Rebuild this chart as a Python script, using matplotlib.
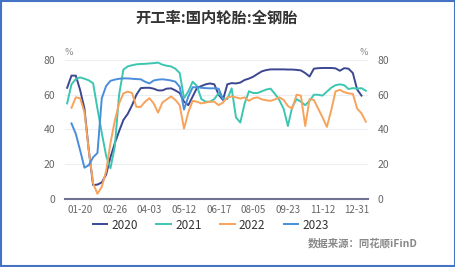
import numpy as np
import matplotlib.pyplot as plt
from matplotlib.patches import Rectangle

plt.rcParams['font.family'] = ['Noto Sans CJK SC', 'DejaVu Sans']

nan = np.nan
tick_labels = ['01-20', '02-26', '04-03', '05-12', '06-17',
               '08-05', '09-23', '11-12', '12-31']
tick_pos = [3, 11, 19, 27, 35, 43, 51, 59, 67]

y2020 = [64, 71, 71, 62.7, 52, 28, 8, 8.3, 9.5, 14,
         24, 32, 39, 45.5, 49, 54, 60, 63.8, 64, 64,
         63.5, 62.5, 62.5, 63.5, 63.7, 62.5, 61, 56, 54, 59,
         64, 65, 66, 66.5, 66, 60, 57, 66, 66.7, 66.5,
         67, 68.5, 69.3, 70.4, 72, 73.5, 74.2, 74.6, 74.6, 74.6,
         74.6, 74.5, 74.5, 74.3, 74, 72.5, 70.5, 75, 75.3, 75.4,
         75.4, 75.4, 75.2, 73.8, 75.3, 75, 72.5, 63, 59.5, nan]
y2021 = [55, 66, 69, 70, 69.2, 68.3, 66.6, 52, 38, 25,
         17.7, 30, 60, 74.5, 76.3, 77, 77.5, 77.7, 77.8, 78,
         78.2, 78.5, 77.3, 76.7, 76.3, 75, 72.5, 58, 62, 67.5,
         65, 57.5, 56, 56, 57.5, 61, 58, 57.5, 63.7, 47,
         44, 55, 62, 61, 61, 62, 63, 63.5, 60.5, 57,
         52, 42, 53, 57.5, 56, 54, 56.5, 60, 60, 59.5,
         61.8, 64, 65.5, 66, 65.5, 63.3, 63.8, 63.5, 63.8, 62.3]
y2022 = [nan, 52.5, 58.5, 58, 50, 28, 9, 3, 7, 16,
         32, 45, 55, 60.8, 61.8, 61, 53, 53, 56, 58,
         55, 49.7, 55.5, 57.3, 59, 57, 54, 40.5, 50, 56.5,
         56, 55, 55.5, 56, 56, 54, 55.5, 58.5, 59, 58.5,
         57.8, 58.5, 56.5, 58, 58.5, 57.3, 56.8, 56.5, 57.3, 58.5,
         57, 53.5, 52, 60, 59.5, 42, 57.5, 57, 52, 47,
         41.5, 51, 62, 62.8, 61.5, 60.8, 60.5, 52, 49.3, 44.5]
y2023 = [nan, 43.5, 37.5, 28, 18, 19.5, 24, 26.5, 58, 65,
         68, 68.7, 69.2, 69.4, 69.4, 69.2, 69, 68.9, 67.5, 66.5,
         68.2, 68.7, 68.9, 68.6, 68.2, 67.5, 64.6, 51.5, 59, 64.3,
         64.3, 64, 63.8, 63.7, 63.7, 63.5, 57.5]

series = [('2020', y2020, '#3b4791'),
          ('2021', y2021, '#3cc6b1'),
          ('2022', y2022, '#f7a35c'),
          ('2023', y2023, '#4a8ddb')]

fig = plt.figure(figsize=(4.56, 2.67), dpi=100)
ax = fig.add_axes([0.1425, 0.2547, 0.6645, 0.5206])

for name, vals, col in series:
    ax.plot(np.arange(len(vals)), vals, color=col, lw=1.4, label=name,
            solid_joinstyle='round')

ax.set_xlim(-0.5, 69.5)
ax.set_ylim(0, 80)
ax.set_yticks([0, 20, 40, 60, 80])
ax.set_xticks(tick_pos)
ax.set_xticklabels(tick_labels)
ax.grid(axis='y', color='#eceef4', lw=0.8)
ax.set_axisbelow(True)
for s in ['top', 'left', 'right']:
    ax.spines[s].set_visible(False)
ax.spines['bottom'].set_color('#6f7391')
ax.spines['bottom'].set_linewidth(1.5)
ax.tick_params(axis='x', length=0, pad=4, labelsize=7, labelcolor='#666666')
ax.tick_params(axis='y', length=0, pad=7, labelsize=7.5, labelcolor='#666666',
               labelright=True)

ax.text(-0.5, 82, '%', fontsize=6.5, color='#888888', ha='left', va='bottom',
        family='DejaVu Sans')
ax.text(69.5, 82, '%', fontsize=6.5, color='#888888', ha='right', va='bottom',
        family='DejaVu Sans')

fig.text(0.475, 0.933, '开工率:国内轮胎:全钢胎', ha='center', va='center',
         fontsize=11, fontweight='bold', color='#333333')

fig.legend(loc='center', bbox_to_anchor=(0.462, 0.157), ncol=4, frameon=False,
           fontsize=8.5, handlelength=1.25, handletextpad=0.35,
           columnspacing=1.55, labelcolor='#333333')

fig.text(0.915, 0.09, '数据来源：同花顺iFinD', ha='right', va='center',
         fontsize=7.5, fontweight='bold', color='#888888')

fig.patches.append(Rectangle((0.002, 0.003), 0.996, 0.994, transform=fig.transFigure,
                             fill=False, edgecolor='#4472c4', lw=1.5))

fig.savefig('out.png', dpi=100)
